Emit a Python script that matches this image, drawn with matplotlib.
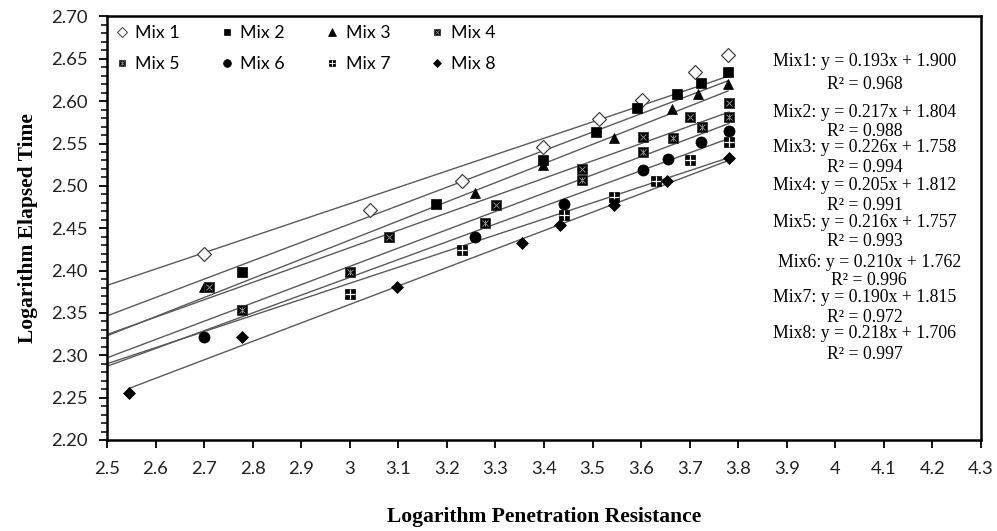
import matplotlib
matplotlib.use("Agg")
import matplotlib.pyplot as plt
from matplotlib.lines import Line2D
import numpy as np

# ---- data: log penetration resistance (x) vs log elapsed time (y) ----
mix_names = ["Mix 1", "Mix 2", "Mix 3", "Mix 4", "Mix 5", "Mix 6", "Mix 7", "Mix 8"]

mix1_x = [2.70, 3.042, 3.231, 3.398, 3.513, 3.602, 3.710, 3.779]
mix1_y = [2.419, 2.471, 2.506, 2.546, 2.579, 2.601, 2.635, 2.655]
mix2_x = [2.779, 3.178, 3.398, 3.508, 3.592, 3.673, 3.723, 3.779]
mix2_y = [2.398, 2.479, 2.531, 2.564, 2.592, 2.609, 2.621, 2.635]
mix3_x = [2.700, 3.080, 3.257, 3.398, 3.545, 3.664, 3.717, 3.779]
mix3_y = [2.381, 2.440, 2.492, 2.525, 2.557, 2.591, 2.609, 2.620]
mix4_x = [2.710, 3.080, 3.301, 3.478, 3.604, 3.701, 3.781]
mix4_y = [2.381, 2.440, 2.477, 2.520, 2.558, 2.581, 2.598]
mix5_x = [2.779, 3.000, 3.279, 3.478, 3.604, 3.666, 3.726, 3.781]
mix5_y = [2.353, 2.398, 2.456, 2.507, 2.540, 2.557, 2.569, 2.581]
mix6_x = [2.700, 3.257, 3.441, 3.604, 3.655, 3.723, 3.781]
mix6_y = [2.322, 2.440, 2.479, 2.519, 2.532, 2.552, 2.565]
mix7_x = [3.000, 3.231, 3.441, 3.545, 3.630, 3.701, 3.781]
mix7_y = [2.372, 2.424, 2.466, 2.487, 2.506, 2.531, 2.552]
mix8_x = [2.545, 2.779, 3.097, 3.354, 3.433, 3.545, 3.654, 3.781]
mix8_y = [2.255, 2.322, 2.381, 2.432, 2.454, 2.477, 2.506, 2.533]

# linear trend lines: slope, intercept, R^2, x-range
slopes = [0.193, 0.217, 0.226, 0.205, 0.216, 0.210, 0.190, 0.218]
intercepts = [1.900, 1.804, 1.758, 1.812, 1.757, 1.762, 1.815, 1.706]
r2_values = [0.968, 0.988, 0.994, 0.991, 0.993, 0.996, 0.972, 0.997]
line_x_start = [2.5, 2.5, 2.5, 2.5, 2.5, 2.5, 2.5, 2.545]
line_x_end = [3.779, 3.779, 3.779, 3.781, 3.781, 3.781, 3.781, 3.781]

xs = [mix1_x, mix2_x, mix3_x, mix4_x, mix5_x, mix6_x, mix7_x, mix8_x]
ys = [mix1_y, mix2_y, mix3_y, mix4_y, mix5_y, mix6_y, mix7_y, mix8_y]

x_ticks = [2.5, 2.6, 2.7, 2.8, 2.9, 3.0, 3.1, 3.2, 3.3, 3.4, 3.5, 3.6, 3.7, 3.8, 3.9, 4.0, 4.1, 4.2, 4.3]
x_tick_labels = ["2.5", "2.6", "2.7", "2.8", "2.9", "3", "3.1", "3.2", "3.3", "3.4", "3.5",
                 "3.6", "3.7", "3.8", "3.9", "4", "4.1", "4.2", "4.3"]
y_ticks = [2.20, 2.25, 2.30, 2.35, 2.40, 2.45, 2.50, 2.55, 2.60, 2.65, 2.70]

# equation label centres (data coords) for each mix: x, y of the equation line, y of R^2 line
eq_x = [4.06, 4.06, 4.06, 4.06, 4.06, 4.07, 4.06, 4.06]
eq_y = [2.6465, 2.5866, 2.5456, 2.5006, 2.4573, 2.4098, 2.3682, 2.3256]
r2_y = [2.6200, 2.5645, 2.5215, 2.4768, 2.4338, 2.3883, 2.3443, 2.3008]

sans = ["Lato", "DejaVu Sans"]
serif = ["Liberation Serif", "DejaVu Serif"]

fig = plt.figure(figsize=(9.97, 5.31), dpi=100)
ax = fig.add_axes([0.1073, 0.1714, 0.8767, 0.7976])

line_color = "#5a5a5a"


def marker_layers(i, ms_scale=1.0, lw_scale=1.0):
    """Return list of marker style dicts (drawn on top of each other) for mix i."""
    s = ms_scale
    if i == 0:
        return [dict(marker="D", ms=6.8 * s, mfc="white", mec="#444444", mew=0.9 * lw_scale)]
    if i == 1:
        return [dict(marker="s", ms=6.5 * s, mfc="black", mec="black", mew=0.5)]
    if i == 2:
        return [dict(marker="^", ms=7.8 * s, mfc="black", mec="black", mew=0.5)]
    if i == 3:
        return [dict(marker="s", ms=6.5 * s, mfc="black", mec="#333333", mew=0.6),
                dict(marker="x", ms=4.4 * s, mfc="none", mec="#8a8a8a", mew=0.7 * lw_scale)]
    if i == 4:
        return [dict(marker="s", ms=6.5 * s, mfc="black", mec="#333333", mew=0.6),
                dict(marker="x", ms=4.4 * s, mfc="none", mec="#8a8a8a", mew=0.7 * lw_scale),
                dict(marker="|", ms=4.7 * s, mfc="none", mec="#8a8a8a", mew=0.7 * lw_scale)]
    if i == 5:
        return [dict(marker="o", ms=8.0 * s, mfc="black", mec="black", mew=0.5)]
    if i == 6:
        return [dict(marker="s", ms=6.5 * s, mfc="black", mec="black", mew=0.5),
                dict(marker="+", ms=6.5 * s, mfc="none", mec="white", mew=0.9 * lw_scale)]
    return [dict(marker="D", ms=6.3 * s, mfc="black", mec="black", mew=0.5)]


# trend lines
for i in range(8):
    lx = np.array([line_x_start[i], line_x_end[i]])
    ax.plot(lx, slopes[i] * lx + intercepts[i], color=line_color, lw=1.0, zorder=2)

# data points
for i in range(8):
    for st in marker_layers(i):
        ax.plot(xs[i], ys[i], ls="none", zorder=3, **st)

# legend with small markers, filled row by row (4 columns x 2 rows)
handles = []
for i in range(8):
    parts = tuple(Line2D([], [], ls="none", **st) for st in marker_layers(i, 0.7, 0.8))
    handles.append(parts)
order = [0, 4, 1, 5, 2, 6, 3, 7]
leg = ax.legend([handles[k] for k in order], [mix_names[k] for k in order], ncol=4,
                loc="upper left", bbox_to_anchor=(0.0, 1.0),
                frameon=False, prop=dict(family=sans, size=12.8), handlelength=0.7,
                handletextpad=0.4, columnspacing=2.3, labelspacing=0.82,
                borderaxespad=0.2, borderpad=0.3)
leg.set_zorder(5)

# equations
for i in range(8):
    ax.text(eq_x[i], eq_y[i], f"Mix{i + 1}: y = {slopes[i]:.3f}x + {intercepts[i]:.3f}",
            ha="center", va="center", family=serif, fontsize=12.8)
    ax.text(eq_x[i], r2_y[i], f"R\u00b2 = {r2_values[i]:.3f}",
            ha="center", va="center", family=serif, fontsize=12.8)

ax.set_xlim(2.5, 4.3)
ax.set_ylim(2.20, 2.70)
ax.set_xticks(x_ticks)
ax.set_xticklabels(x_tick_labels)
ax.set_yticks(y_ticks)
ax.set_yticklabels([f"{v:.2f}" for v in y_ticks])
ax.set_yticks(np.arange(2.20, 2.7001, 0.01), minor=True)

for lab in ax.get_xticklabels() + ax.get_yticklabels():
    lab.set_family(sans)
    lab.set_fontsize(13.3)
    lab.set_color("#222222")

ax.tick_params(axis="x", which="major", direction="out", length=6, width=1.3, pad=9)
ax.tick_params(axis="y", which="major", direction="out", length=6, width=1.3, pad=8)
ax.tick_params(axis="y", which="minor", direction="out", length=4, width=1.1)

for sp in ax.spines.values():
    sp.set_linewidth(1.8)
    sp.set_color("black")

ax.set_xlabel("Logarithm Penetration Resistance", family=serif, fontweight="bold",
              fontsize=15.5, labelpad=22)
ax.set_ylabel("Logarithm Elapsed Time", family=serif, fontweight="bold",
              fontsize=15.5, labelpad=9)

fig.savefig("out.png", dpi=100)
